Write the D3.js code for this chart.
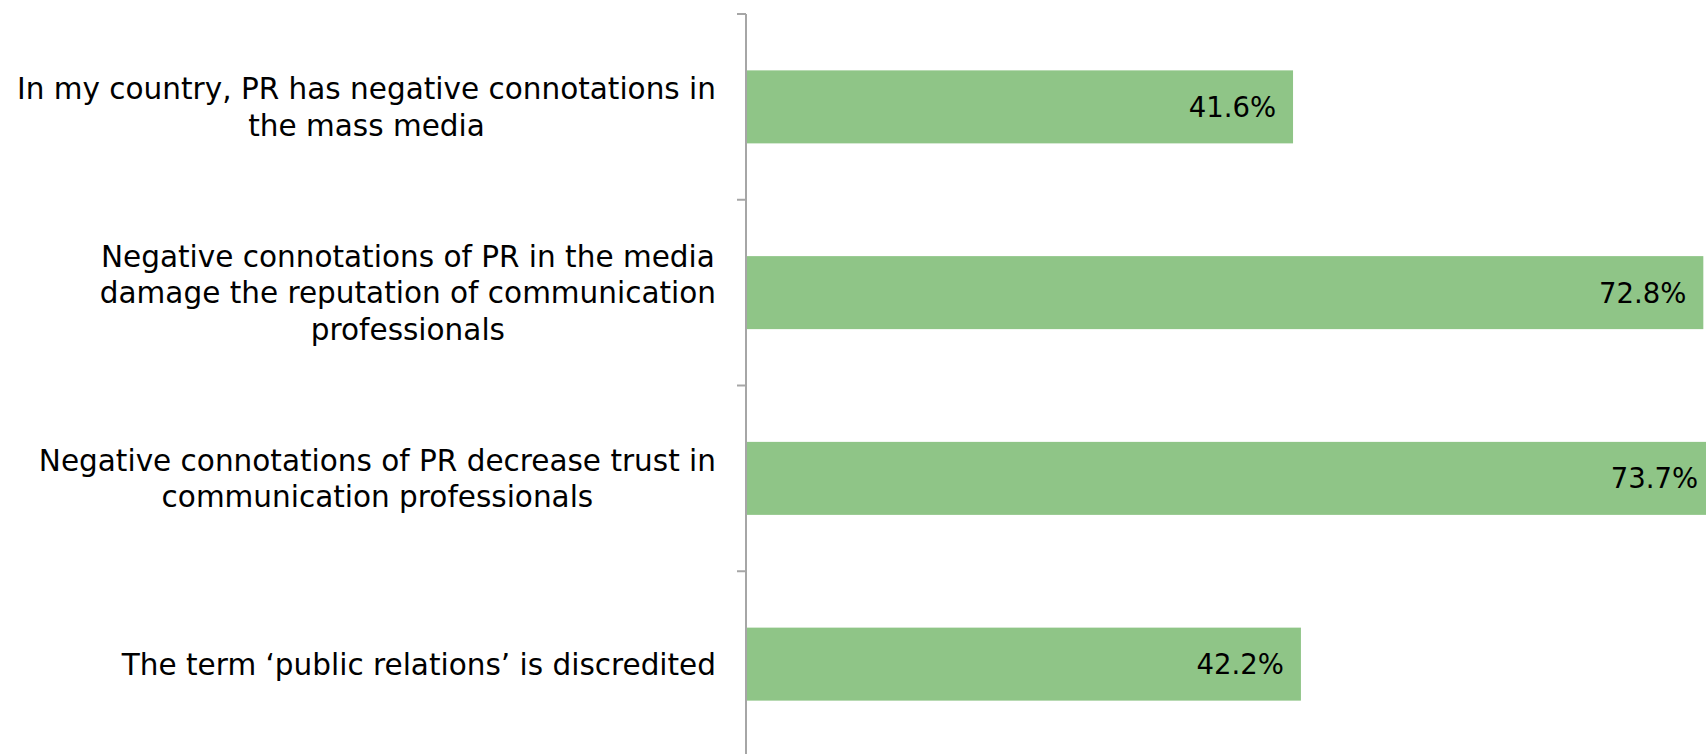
<!DOCTYPE html>
<html>
<head>
<meta charset="utf-8">
<script src="https://cdn.jsdelivr.net/npm/d3@7"></script>
<style>
  html, body { margin: 0; padding: 0; background: #ffffff; }
  svg { display: block; }
</style>
</head>
<body>
<svg id="chart" width="1706" height="754"></svg>
<script>
// Survey statements (each inner array is one wrapped line of the axis label)
const categories = [
  ["In my country, PR has negative connotations in", "the mass media"],
  ["Negative connotations of PR in the media", "damage the reputation of communication", "professionals"],
  ["Negative connotations of PR decrease trust in", "communication professionals"],
  ["The term \u2018public relations\u2019 is discredited"]
];
const values = [41.6, 72.8, 73.7, 42.2];
const valueLabels = ["41.6%", "72.8%", "73.7%", "42.2%"];

const chartW = 1706, chartH = 754;
const axisX = 746;
const plotTop = 14, plotBottom = 757;

const svg = d3.select("#chart");

const x = d3.scaleLinear().domain([0, 80]).range([axisX, axisX + 13.15 * 80]);

const y = d3.scaleBand()
  .domain(d3.range(categories.length))
  .range([plotTop, plotBottom])
  .paddingInner(0.607)
  .paddingOuter(0.3035);

// bars
svg.append("g").selectAll("rect")
  .data(values)
  .join("rect")
  .attr("x", x(0))
  .attr("y", (d, i) => y(i))
  .attr("width", d => x(d) - x(0))
  .attr("height", y.bandwidth())
  .attr("fill", "#8fc587");

// value labels inside bar ends
svg.append("g").selectAll("text")
  .data(values)
  .join("text")
  .attr("x", d => x(d) - 17)
  .attr("y", (d, i) => y(i) + y.bandwidth() / 2)
  .attr("dy", "0.36em")
  .attr("text-anchor", "end")
  .attr("font-family", "DejaVu Sans, Verdana, sans-serif")
  .attr("font-size", 27.5)
  .attr("fill", "#000")
  .text((d, i) => valueLabels[i]);

// category axis with band-boundary ticks
const tickPos = d3.range(categories.length + 1).map(i => plotTop + i * y.step());
const axisG = svg.append("g");
axisG.append("line")
  .attr("x1", axisX).attr("x2", axisX)
  .attr("y1", plotTop).attr("y2", plotBottom)
  .attr("stroke", "#a6a6a6").attr("stroke-width", 2);
axisG.selectAll("line.tick")
  .data(tickPos)
  .join("line")
  .attr("class", "tick")
  .attr("x1", axisX - 9).attr("x2", axisX)
  .attr("y1", d => d).attr("y2", d => d)
  .attr("stroke", "#a6a6a6").attr("stroke-width", 2);

// wrapped category labels: lines centred on each other, block right-aligned
const lineH = 36.5;
const labelRight = 716;
const labels = svg.append("g")
  .attr("font-family", "DejaVu Sans, Verdana, sans-serif")
  .attr("font-size", 29.5)
  .attr("fill", "#000");

categories.forEach((lines, i) => {
  const cy = y(i) + y.bandwidth() / 2;
  const g = labels.append("g");
  const texts = g.selectAll("text")
    .data(lines)
    .join("text")
    .attr("y", (d, k) => cy + (k - (lines.length - 1) / 2) * lineH)
    .attr("dy", "0.36em")
    .attr("text-anchor", "middle")
    .text(d => d);
  const w = d3.max(texts.nodes(), n => n.getComputedTextLength());
  texts.attr("x", labelRight - w / 2);
});
</script>
</body>
</html>
